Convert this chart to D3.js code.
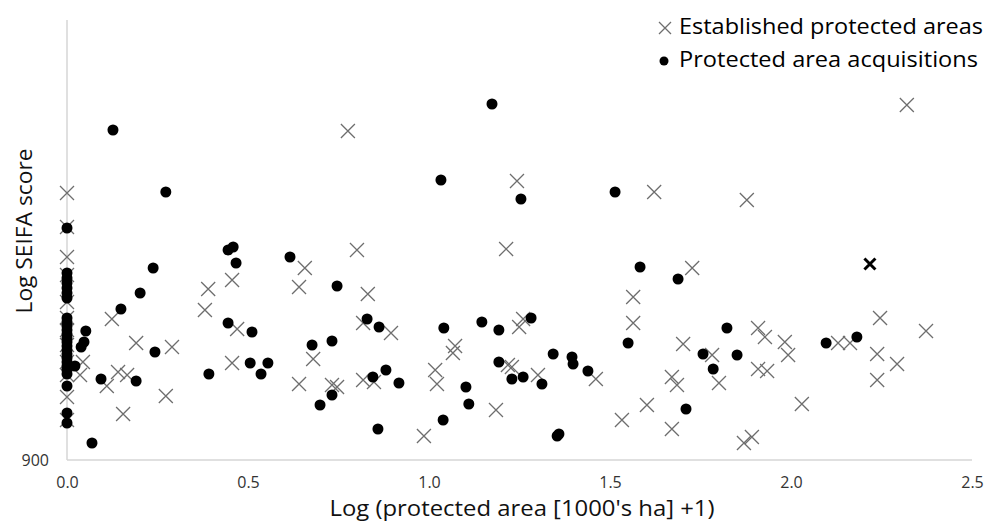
<!DOCTYPE html>
<html>
<head>
<meta charset="utf-8">
<script src="https://cdn.jsdelivr.net/npm/d3@7"></script>
<style>
  html, body { margin: 0; padding: 0; background: #fff; }
  svg { display: block; font-family: "Open Sans", "Noto Sans", sans-serif; }
</style>
</head>
<body>
<div id="chart"></div>
<script>
// Established protected areas (x = log area, y = log SEIFA)
const estX = [0, 0, 0, 0, 0, 0, 0, 0, 0, 0, 0, 0,
  0.124, 0.191, 0.290, 0.044, 0.036, 0.141, 0.166, 0.110, 0.273, 0.155,
  0.390, 0.456, 0.381, 0.470, 0.456, 0.641, 0.657, 0.680, 0.641, 0.732, 0.746,
  0.776, 0.801, 0.831, 0.818, 0.895, 0.818, 0.848, 1.072, 1.066, 1.017, 1.022,
  0.986, 1.185, 1.249, 1.260, 1.218, 1.229, 1.301, 1.461, 1.243, 1.213,
  1.622, 1.564, 1.564, 1.533, 1.602, 1.702, 1.671, 1.685, 1.671, 1.727, 1.878,
  2.320, 1.909, 1.928, 1.983, 1.992, 2.130, 2.163, 2.238, 2.293, 2.238, 2.246,
  2.373, 1.782, 1.909, 1.934, 1.801, 2.030, 1.870, 1.892];
const estY = [1033.5, 1016.5, 1001.5, 992.5, 979, 971, 965, 957.5, 949, 942.5, 931.5, 920,
  970.5, 958.5, 956.5, 949, 942.5, 944, 942.5, 937, 932, 923,
  985.5, 990, 975, 965.5, 948.5, 986.5, 996, 950.5, 938, 937.5, 936.5,
  1064.5, 1005, 983, 968.5, 963.5, 940, 939, 957, 953.5, 945, 938,
  912, 925, 966.5, 970.5, 947.5, 946.5, 942.5, 940.5, 1039.5, 1005.5,
  1034, 981.5, 968.5, 920, 927.5, 958, 941.5, 937.5, 915.5, 996, 1030,
  1077.5, 966, 961.5, 959, 952.5, 958.5, 958.5, 953, 948, 940, 971,
  964.5, 952.5, 945.5, 944.5, 938.5, 928, 908.5, 911.5];

// Protected area acquisitions
const acqX = [0, 0, 0, 0, 0, 0, 0, 0, 0, 0, 0, 0, 0, 0, 0, 0, 0, 0, 0, 0, 0, 0, 0, 0, 0,
  0.127, 0.273, 0.238, 0.445, 0.459, 0.467, 0.616, 0.202, 0.149, 0.445, 0.511,
  0.052, 0.047, 0.039, 0.243, 0.677, 0.732, 0.022, 0.506, 0.555, 0.536, 0.392,
  0.094, 0.191, 0.732, 0.699, 0.069, 1.174, 1.033, 1.254, 1.514, 1.583, 0.746,
  0.829, 0.862, 1.041, 1.146, 1.193, 1.282, 1.193, 0.845, 0.881, 0.917, 1.102,
  1.110, 1.229, 1.260, 1.312, 1.343, 1.395, 1.398, 1.439, 0.859, 1.039, 1.354,
  1.359, 1.550, 1.688, 1.710, 1.823, 2.097, 2.182, 1.757, 1.851, 1.785];
const acqY = [1016, 993.5, 991, 988.5, 986, 983.5, 981, 971, 969, 967, 965, 963, 961, 959,
  957, 955, 953, 951, 949, 947, 945, 943, 937, 923.5, 918.5,
  1065, 1034, 996, 1005, 1006.5, 998.5, 1001.5, 983.5, 975.5, 968.5, 964,
  964.5, 959, 956.5, 954, 957.5, 959.5, 947, 948.5, 948.5, 943, 943,
  940.5, 939.5, 932.5, 927.5, 908.5, 1078, 1040, 1030.5, 1034, 996.5, 987,
  970.5, 966.5, 966, 969, 965, 971, 949, 941.5, 945, 938.5, 936.5,
  928, 940.5, 941.5, 938, 953, 951.5, 948, 944.5, 915.5, 920, 912,
  913, 958.5, 990.5, 925.5, 966, 958.5, 961.5, 953, 952.5, 945.5];

// the single highlighted (bold) established area
const boldX = [2.218];
const boldY = [998];

const xTicks = [0, 0.5, 1.0, 1.5, 2.0, 2.5];
const yTicks = [900];
const legendLabels = ["Established protected areas", "Protected area acquisitions"];

const width = 987, height = 529;
const svg = d3.select("#chart").append("svg")
    .attr("width", width)
    .attr("height", height);

const x = d3.scaleLinear().domain([0, 2.5]).range([67, 972]);
const y = d3.scaleLinear().domain([900, 1120]).range([460, 20]);

const axisColor = "#d6d6d6";
const labelColor = "#333";

// axes lines
svg.append("line")
    .attr("x1", x(0)).attr("x2", x(2.5))
    .attr("y1", y(900)).attr("y2", y(900))
    .attr("stroke", axisColor).attr("stroke-width", 1.5);
svg.append("line")
    .attr("x1", x(0)).attr("x2", x(0))
    .attr("y1", y(900)).attr("y2", y(1120))
    .attr("stroke", axisColor).attr("stroke-width", 1.5);

// x tick labels
const xAxis = d3.axisBottom(x).tickValues(xTicks).tickSize(0).tickPadding(17)
    .tickFormat(d3.format(".1f"));
const gx = svg.append("g").attr("transform", `translate(0,${y(900)})`).call(xAxis);
gx.select(".domain").remove();
gx.selectAll("text")
    .style("font-size", "16px")
    .style("font-family", "'Open Sans', sans-serif")
    .attr("fill", labelColor);

// y tick label
const yAxis = d3.axisLeft(y).tickValues(yTicks).tickSize(0).tickPadding(18);
const gy = svg.append("g").attr("transform", `translate(${x(0)},0)`).call(yAxis);
gy.select(".domain").remove();
gy.selectAll("text")
    .style("font-size", "16px")
    .style("font-family", "'Open Sans', sans-serif")
    .attr("fill", labelColor);

// axis titles
svg.append("text")
    .attr("x", 522).attr("y", 516)
    .attr("text-anchor", "middle")
    .attr("textLength", 385).attr("lengthAdjust", "spacingAndGlyphs")
    .style("font-size", "22px")
    .attr("fill", "#111")
    .text("Log (protected area [1000's ha] +1)");

svg.append("text")
    .attr("transform", "translate(32,231) rotate(-90)")
    .attr("text-anchor", "middle")
    .attr("textLength", 165).attr("lengthAdjust", "spacingAndGlyphs")
    .style("font-size", "22px")
    .attr("fill", "#111")
    .text("Log SEIFA score");

// cross path helper
function cross(s) {
    return `M${-s},${-s}L${s},${s}M${-s},${s}L${s},${-s}`;
}

const estData = estX.map((v, i) => [v, estY[i]]);
const acqData = acqX.map((v, i) => [v, acqY[i]]);
const boldData = boldX.map((v, i) => [v, boldY[i]]);

// established: grey crosses
svg.append("g").selectAll("path")
    .data(estData)
    .join("path")
    .attr("transform", d => `translate(${x(d[0])},${y(d[1])})`)
    .attr("d", cross(7))
    .attr("fill", "none")
    .attr("stroke", "#6e6e6e")
    .attr("stroke-width", 1.3);

// acquisitions: black dots
svg.append("g").selectAll("circle")
    .data(acqData)
    .join("circle")
    .attr("cx", d => x(d[0]))
    .attr("cy", d => y(d[1]))
    .attr("r", 5.5)
    .attr("fill", "#000");

// highlighted cross
svg.append("g").selectAll("path")
    .data(boldData)
    .join("path")
    .attr("transform", d => `translate(${x(d[0])},${y(d[1])})`)
    .attr("d", cross(5.5))
    .attr("fill", "none")
    .attr("stroke", "#000")
    .attr("stroke-width", 3);

// legend
const legend = svg.append("g");
legend.append("path")
    .attr("transform", "translate(665,28)")
    .attr("d", cross(6))
    .attr("fill", "none")
    .attr("stroke", "#6e6e6e")
    .attr("stroke-width", 1.3);
legend.append("circle")
    .attr("cx", 664).attr("cy", 61).attr("r", 4.5)
    .attr("fill", "#000");
legend.selectAll("text")
    .data(legendLabels)
    .join("text")
    .attr("x", 679)
    .attr("y", (d, i) => 34 + i * 33)
    .attr("textLength", (d, i) => i === 0 ? 304 : 299)
    .attr("lengthAdjust", "spacingAndGlyphs")
    .style("font-size", "22px")
    .attr("fill", "#000")
    .text(d => d);
</script>
</body>
</html>
